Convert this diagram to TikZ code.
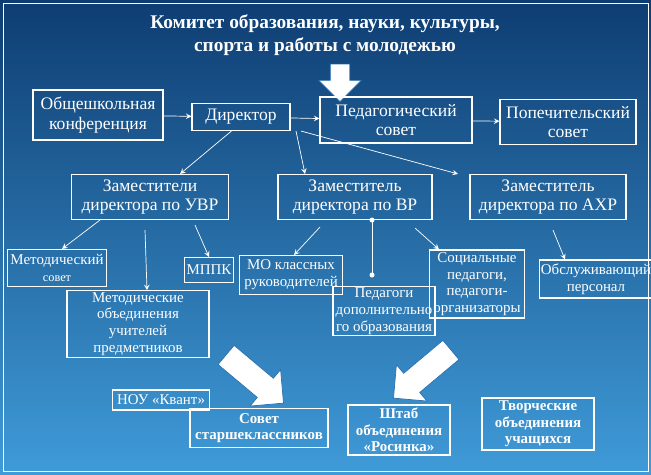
\documentclass[tikz,border=0pt]{standalone}
\usepackage{fontspec}
\setmainfont{Liberation Serif}
\usetikzlibrary{positioning,shapes.arrows}
\definecolor{bgtop}{HTML}{0E3D72}
\definecolor{bgbot}{HTML}{3F9BD8}
\definecolor{arrowedge}{HTML}{2A6FB0}
\begin{document}
\begin{tikzpicture}[
    x=0.02cm, y=-0.02cm,
    box/.style={draw=white, semithick, text=white, align=center, inner sep=1pt, font=\fontsize{8.5}{9.5}\selectfont},  % Style for the boxes
    bigbox/.style={box, font=\fontsize{10}{11}\selectfont},                                                            % Larger text
    link/.style={->, white, thin},                                                                                     % Style for the thin arrows
    bigarrow/.style={single arrow, draw=arrowedge, fill=white, minimum height=1.5cm, minimum width=0.95cm,
                     single arrow head extend=0.15cm, inner sep=0.16cm},                                               % Block arrows
    >={stealth}
    ]

    % Background and frame
    \shade[top color=bgtop, bottom color=bgbot] (0,0) rectangle (651,474);
    \useasboundingbox (0,0) rectangle (651,474);
    \draw[white, thin] (3,3) rectangle (648,471);

    % Title
    \node[text=white, align=center, font=\bfseries\fontsize{11}{13}\selectfont] (title) at (325,35)
        {Комитет образования, науки, культуры,\\спорта и работы с молодежью};
    \node[bigarrow, rotate=-90, minimum height=0.75cm, minimum width=0.85cm, inner sep=0.12cm] (down) at (340,78) {};

    % Top row
    \node[bigbox, minimum width=130*0.02cm, minimum height=50*0.02cm] (conf) at (98,115) {Общешкольная\\конференция};
    \node[bigbox, minimum width=98*0.02cm, minimum height=27*0.02cm] (dir) at (241,117) {Директор};
    \node[bigbox, minimum width=152*0.02cm, minimum height=46*0.02cm] (ped) at (396,120) {Педагогический\\совет};
    \node[bigbox, minimum width=136*0.02cm, minimum height=45*0.02cm] (pop) at (568,122) {Попечительский\\совет};

    \draw[link] (conf) -- (dir);
    \draw[link] (dir) -- (ped);
    \draw[link] (ped) -- (pop);

    % Deputies
    \node[bigbox, minimum width=157*0.02cm, minimum height=45*0.02cm] (uvr) at (150,197) {Заместители\\директора по УВР};
    \node[bigbox, minimum width=154*0.02cm, minimum height=45*0.02cm] (vr) at (355,197) {Заместитель\\директора по ВР};
    \node[bigbox, minimum width=156*0.02cm, minimum height=45*0.02cm] (ahr) at (548,197) {Заместитель\\директора по АХР};

    \draw[link] (dir.south west) ++(40,0) -- ([xshift=30*0.02cm]uvr.north);
    \draw[link] ([xshift=55*0.02cm]dir.south) -- ([xshift=-50*0.02cm]vr.north);
    \draw[link] ([xshift=60*0.02cm]dir.south) -- ([xshift=-90*0.02cm]ahr.north);

    % Third level
    \node[box, minimum width=99*0.02cm, minimum height=37*0.02cm] (metsov) at (57,268) {Методический\\{\fontsize{7}{8}\selectfont совет}};
    \node[box, minimum width=48*0.02cm, minimum height=25*0.02cm] (mppk) at (209,270) {МППК};
    \node[box, minimum width=142*0.02cm, minimum height=66*0.02cm] (metob) at (138,324) {Методические\\объединения\\учителей\\предметников};
    \node[box, minimum width=103*0.02cm, minimum height=39*0.02cm] (mo) at (291,275) {МО классных\\руководителей};
    \node[box, minimum width=102*0.02cm, minimum height=48*0.02cm] (pdo) at (384,311) {Педагоги\\дополнительно\\го образования};
    \node[box, minimum width=95*0.02cm, minimum height=68*0.02cm] (soc) at (477,284) {Социальные\\педагоги,\\педагоги-\\организаторы};
    \node[box, minimum width=107*0.02cm, minimum height=38*0.02cm] (obs) at (596,279) {Обслуживающий\\персонал};

    \draw[link] ([xshift=-50*0.02cm]uvr.south) -- ([xshift=5*0.02cm]metsov.north);
    \draw[link] ([xshift=-5*0.02cm,yshift=-10*0.02cm]uvr.south) -- ([xshift=9*0.02cm]metob.north);
    \draw[link] ([xshift=45*0.02cm,yshift=-5*0.02cm]uvr.south) -- (mppk.north);
    \draw[link] ([xshift=-35*0.02cm,yshift=-7*0.02cm]vr.south) -- ([xshift=3*0.02cm]mo.north);
    \coordinate (dotend) at (372,275);
    \draw[white, thin] ([xshift=17*0.02cm]vr.south) -- (dotend);
    \fill[white] ([xshift=17*0.02cm]vr.south) circle (2.5) (dotend) circle (2.5);
    \draw[link] ([xshift=60*0.02cm,yshift=-8*0.02cm]vr.south) -- ([xshift=-38*0.02cm]soc.north);
    \draw[link] ([xshift=5*0.02cm,yshift=-10*0.02cm]ahr.south) -- ([xshift=-31*0.02cm]obs.north);

    % Student bodies
    \node[bigarrow, rotate=-40] (arrA) at (250,375) {};
    \node[bigarrow, rotate=220] (arrB) at (427,370) {};
    \node[box, minimum width=97*0.02cm, minimum height=20*0.02cm] (nou) at (161,400) {НОУ «Квант»};
    \node[box, font=\bfseries\fontsize{8.5}{9.5}\selectfont, minimum width=138*0.02cm, minimum height=39*0.02cm] (sst) at (259,428) {Совет\\старшеклассников};
    \node[box, font=\bfseries\fontsize{8.5}{9.5}\selectfont, minimum width=102*0.02cm, minimum height=50*0.02cm] (shtab) at (399,430) {Штаб\\объединения\\«Росинка»};
    \node[box, font=\bfseries\fontsize{8.5}{9.5}\selectfont, minimum width=112*0.02cm, minimum height=52*0.02cm] (tvor) at (538,424) {Творческие\\объединения\\учащихся};

\end{tikzpicture}
\end{document}
